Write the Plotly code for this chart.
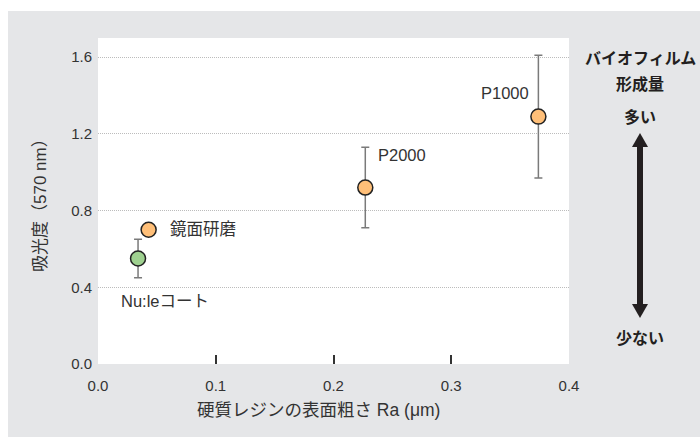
import plotly.graph_objects as go

# Surface roughness vs. absorbance (biofilm formation)
labels = ["Nu:leコート", "鏡面研磨", "P2000", "P1000"]
roughness_ra = [0.034, 0.043, 0.227, 0.374]
absorbance = [0.55, 0.70, 0.92, 1.29]
absorbance_err = [0.10, 0.0, 0.21, 0.32]
marker_fill = ["#9fd190", "#ffbf78", "#ffbf78", "#ffbf78"]

x_ticks = [0.0, 0.1, 0.2, 0.3, 0.4]
y_ticks = [0.0, 0.4, 0.8, 1.2, 1.6]

W, H = 700, 437
L, R, T, B = 98, 131, 38, 73
PW, PH = W - L - R, H - T - B

FONT = "Liberation Sans, Arial, Noto Sans CJK JP, sans-serif"
INK = "#231f20"


def px(x):
    return (x - L) / PW


def py(y):
    return (H - B - y) / PH


fig = go.Figure()
fig.add_trace(go.Scatter(
    x=roughness_ra, y=absorbance, mode="markers",
    error_y=dict(type="data", array=absorbance_err, visible=True,
                 color="#7a7a7a", thickness=1.5, width=4),
    marker=dict(size=15, color=marker_fill, line=dict(color="#222", width=1.5)),
    showlegend=False, hoverinfo="skip", cliponaxis=False,
))

# point labels, offset from their markers
label_pos = [
    dict(xanchor="left", xshift=-19, yshift=-42),
    dict(xanchor="left", xshift=19, yshift=1),
    dict(xanchor="left", xshift=11, yshift=33),
    dict(xanchor="right", xshift=-7, yshift=24),
]
annotations = []
for name, xv, yv, pos in zip(labels, roughness_ra, absorbance, label_pos):
    annotations.append(dict(
        x=xv, y=yv, xref="x", yref="y", text=name, showarrow=False,
        yanchor="middle", font=dict(family=FONT, size=16.5, color="#333"), **pos))

# axis titles
annotations.append(dict(
    x=px(40), y=py(201), xref="paper", yref="paper", text="吸光度（570 nm）",
    textangle=-90, showarrow=False, xanchor="center", yanchor="middle",
    font=dict(family=FONT, size=17, color="#333")))
annotations.append(dict(
    x=px(318), y=py(410), xref="paper", yref="paper", text="硬質レジンの表面粗さ Ra (μm)",
    showarrow=False, xanchor="center", yanchor="middle",
    font=dict(family=FONT, size=17.5, color="#333")))

# biofilm formation scale on the right
ax_c = 640
for txt, yc in [("バイオフィルム", 57), ("形成量", 83), ("多い", 116), ("少ない", 337)]:
    annotations.append(dict(
        x=px(ax_c), y=py(yc), xref="paper", yref="paper", text=f"<b>{txt}</b>",
        showarrow=False, xanchor="center", yanchor="middle",
        font=dict(family="Noto Sans CJK JP, sans-serif", size=16, color=INK)))

shapes = [
    # white outer margin strips around the grey panel
    dict(type="rect", xref="paper", yref="paper", x0=px(0), x1=px(W), y0=py(11), y1=py(0),
         fillcolor="white", line=dict(width=0), layer="below"),
    dict(type="rect", xref="paper", yref="paper", x0=px(0), x1=px(8), y0=py(H), y1=py(0),
         fillcolor="white", line=dict(width=0), layer="below"),
    # double arrow shaft
    dict(type="rect", xref="paper", yref="paper", x0=px(ax_c - 3), x1=px(ax_c + 3),
         y0=py(306), y1=py(145), fillcolor=INK, line=dict(width=0)),
]
hw, hh = 8, 14
up = (f"M {px(ax_c)} {py(133)} L {px(ax_c - hw)} {py(133 + hh)} "
      f"L {px(ax_c + hw)} {py(133 + hh)} Z")
down = (f"M {px(ax_c)} {py(318)} L {px(ax_c - hw)} {py(318 - hh)} "
        f"L {px(ax_c + hw)} {py(318 - hh)} Z")
for p in (up, down):
    shapes.append(dict(type="path", xref="paper", yref="paper", path=p,
                       fillcolor=INK, line=dict(width=0)))

fig.update_layout(
    width=W, height=H,
    margin=dict(l=L, r=R, t=T, b=B, pad=0),
    paper_bgcolor="#e5e6e8", plot_bgcolor="white",
    font=dict(family=FONT, size=14, color="#333"),
    annotations=annotations, shapes=shapes,
    xaxis=dict(range=[0, 0.4], tickvals=x_ticks, tickformat=".1f",
               ticks="inside", ticklen=9, tickwidth=1.5, tickcolor="#333",
               ticklabelstandoff=11,
               showgrid=False, zeroline=False, showline=False,
               tickfont=dict(size=15, color="#333")),
    yaxis=dict(range=[0, 1.7], tickvals=y_ticks, tickformat=".1f",
               ticks="", showgrid=True, gridcolor="#bcbcbc", gridwidth=1, griddash="1px,1px",
               ticklabelstandoff=5,
               zeroline=False, showline=False,
               tickfont=dict(size=15, color="#333")),
)

fig.write_html("out.html")
